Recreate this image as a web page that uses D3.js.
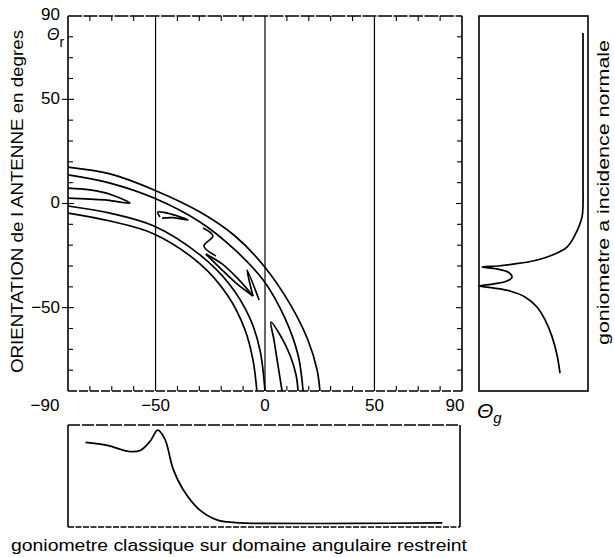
<!DOCTYPE html>
<html>
<head>
<meta charset="utf-8">
<script src="https://cdn.jsdelivr.net/npm/d3@7"></script>
<style>
  body { margin: 0; background: #fff; }
  svg { display: block; font-family: "Liberation Sans", Arial, sans-serif; }
</style>
</head>
<body>
<div id="chart"></div>
<script>

var svgWidth = 615;
var svgHeight = 558;

// contour lines of the main map, [theta_g, theta_r] in degrees
var outerArc1 = [[-90, 17.5], [-70.8, 14.2], [-50.7, 6.5], [-29.7, -4.1], [-13.7, -15.6], [-0.5, -30], [11.4, -48.2], [19.6, -65.5], [23.8, -79.9], [25.1, -90]];
var outerArc2 = [[-90, 13.7], [-70.8, 9.8], [-50.7, 2.6], [-29.7, -8.9], [-13.7, -22.3], [-0.5, -37.2], [9.1, -55], [15.1, -72.7], [17.4, -90]];
var innerArc1 = [[-90, -1.2], [-70.8, -4.6], [-50.7, -10.8], [-29.7, -24.7], [-16, -39.1], [-6.9, -55], [-2.3, -70.3], [0, -90]];
var innerArc2 = [[-90, -4.6], [-70.8, -8.4], [-50.7, -14.6], [-29.7, -29], [-16.9, -44.4], [-9.1, -60.7], [-5.5, -75.1], [-3.7, -90]];
var tongueLeft = [[-90, 7.4], [-80, 6.5], [-69.9, 4.1], [-61.7, 0.2], [-73.1, 1.7], [-90, 2.6]];
var tongueSmall = [[-48, -6.5], [-48.9, -4.1], [-42.5, -5.2], [-35.2, -7.9], [-42, -6.8], [-47, -7]];
var zigzag = [[-28.3, -11.8], [-23.8, -15.6], [-27.9, -20.4], [-22.4, -25.2]];
var tongueUpper = [[-27, -24.3], [-19.6, -29], [-12.3, -36.2], [-5.5, -44.4]];
var tongueLower = [[-27, -24.3], [-20.6, -30.9], [-13.2, -38.2], [-5.5, -44.4]];
var spike = [[-5.5, -44.4], [-8.2, -32], [-2.7, -46.3]];
var arch = [[7.8, -90], [5.9, -77.5], [4.1, -65.5], [2.7, -56.9], [6.9, -63.1], [11.4, -72.7], [14.2, -82.3], [15.1, -90]];

// right panel: goniometre a incidence normale, response vs theta_r
var normalThetaR = [81.9, 40, 10, -0.7, -6.5, -15.1, -20.9, -25.2, -27.6, -29.0, -30.0, -30.5, -31.4, -32.9, -35.3, -37.2, -38.6, -39.6, -40.6, -42.0, -44.9, -49.7, -55.9, -63.9, -72.7, -81.4];
var normalResponse = [0.954, 0.954, 0.954, 0.954, 0.945, 0.881, 0.807, 0.651, 0.495, 0.33, 0.174, 0.028, 0.165, 0.266, 0.303, 0.257, 0.138, 0.0, 0.138, 0.284, 0.422, 0.532, 0.606, 0.67, 0.716, 0.743];

// bottom panel: goniometre classique, response vs theta_g
var classicThetaG = [-82, -72, -62, -57, -52.5, -49, -45.7, -42, -37.5, -30, -22, -11, 0, 40, 81];
var classicResponse = [0.83, 0.8, 0.74, 0.75, 0.84, 0.95, 0.86, 0.57, 0.37, 0.17, 0.07, 0.04, 0.035, 0.035, 0.04];

var xTickLabels = [-50, 0, 50, 90];
var yTickLabels = [90, 50, 0, -50];
var gridLines = [-50, 0, 50];

var svg = d3.select("#chart")
  .append("svg")
  .attr("width", svgWidth)
  .attr("height", svgHeight);

var x = d3.scaleLinear().domain([-90, 90]).range([68, 462]);
var y = d3.scaleLinear().domain([-90, 90]).range([391, 16]);

// right panel scale and bottom panel scale
var rx = d3.scaleLinear().domain([0, 1]).range([479, 588]);
var by = d3.scaleLinear().domain([0, 1]).range([527, 425]);

var fmt = d => d < 0 ? "\u2212" + Math.abs(d) : String(d);

// ---- main frame ----
var main = svg.append("g");

main.selectAll(".grid")
  .data(gridLines)
  .enter()
  .append("line")
  .attr("x1", d => x(d)).attr("x2", d => x(d))
  .attr("y1", y(90)).attr("y2", y(-90))
  .attr("stroke", "#000")
  .attr("stroke-width", 1.2);

// minor ticks every 10 degrees, inward
var minor = d3.range(-80, 90, 10);
minor.forEach(function(v) {
  var major = v % 50 === 0;
  var len = major ? 6 : 5;
  // left and right edges
  main.append("line").attr("x1", x(-90) - (major ? 6 : 0)).attr("x2", x(-90) + len)
    .attr("y1", y(v)).attr("y2", y(v)).attr("stroke", "#000").attr("stroke-width", 1.1);
  main.append("line").attr("x1", x(90) - len).attr("x2", x(90))
    .attr("y1", y(v)).attr("y2", y(v)).attr("stroke", "#000").attr("stroke-width", 1.1);
  // top and bottom edges
  if (!major) {
    main.append("line").attr("x1", x(v)).attr("x2", x(v))
      .attr("y1", y(90)).attr("y2", y(90) + len).attr("stroke", "#000").attr("stroke-width", 1.1);
    main.append("line").attr("x1", x(v)).attr("x2", x(v))
      .attr("y1", y(-90) - len).attr("y2", y(-90)).attr("stroke", "#000").attr("stroke-width", 1.1);
  }
});

main.append("line").attr("x1", x(-90)).attr("x2", x(-90)).attr("y1", y(90)).attr("y2", y(-90))
  .attr("stroke", "#000").attr("stroke-width", 1.6);
main.append("line").attr("x1", x(90)).attr("x2", x(90)).attr("y1", y(90)).attr("y2", y(-90))
  .attr("stroke", "#000").attr("stroke-width", 1.6);
main.append("line").attr("x1", x(-90)).attr("x2", x(90)).attr("y1", y(90)).attr("y2", y(90))
  .attr("stroke", "#000").attr("stroke-width", 1.3).attr("stroke-dasharray", "14,1.5");
main.append("line").attr("x1", x(-90)).attr("x2", x(90)).attr("y1", y(-90)).attr("y2", y(-90))
  .attr("stroke", "#000").attr("stroke-width", 1.3).attr("stroke-dasharray", "9,2");

// contours
var contourLine = d3.line()
  .x(d => x(d[0]))
  .y(d => y(d[1]))
  .curve(d3.curveCatmullRom.alpha(0.5));

var contours = [outerArc1, outerArc2, innerArc1, innerArc2, tongueLeft, tongueSmall,
  zigzag, tongueUpper, tongueLower, spike, arch];

main.selectAll(".contour")
  .data(contours)
  .enter()
  .append("path")
  .attr("class", "contour")
  .attr("d", contourLine)
  .attr("fill", "none")
  .attr("stroke", "#000")
  .attr("stroke-width", 1.7)
  .attr("stroke-linejoin", "round");

// tick labels
main.selectAll(".ylab")
  .data(yTickLabels)
  .enter()
  .append("text")
  .attr("x", 60)
  .attr("y", d => d === 90 ? 14 : y(d) - 1)
  .attr("dy", "0.35em")
  .attr("text-anchor", "end")
  .attr("font-size", 17)
  .text(fmt);

main.selectAll(".xlab")
  .data(xTickLabels)
  .enter()
  .append("text")
  .attr("x", d => d === 90 ? 455 : x(d))
  .attr("y", 405)
  .attr("dy", "0.35em")
  .attr("text-anchor", "middle")
  .attr("font-size", 17)
  .text(fmt);

main.append("text")
  .attr("x", 45).attr("y", 405).attr("dy", "0.35em")
  .attr("text-anchor", "middle").attr("font-size", 17)
  .text(fmt(-90));

// theta_g and theta_r symbols
var tg = main.append("text").attr("x", 477).attr("y", 418).attr("font-size", 21).attr("font-style", "italic");
tg.append("tspan").text("\u0398");
tg.append("tspan").attr("font-size", 15).attr("dy", 5).text("g");

var tr = main.append("text").attr("x", 47).attr("y", 40).attr("font-size", 16).attr("font-style", "italic");
tr.append("tspan").text("\u0398");
tr.append("tspan").attr("font-size", 14).attr("dy", 7).attr("font-style", "normal").text("r");

// axis title (rotated)
svg.append("text")
  .attr("transform", "translate(23, 373) rotate(-90)")
  .attr("font-size", 16)
  .attr("textLength", 343)
  .attr("lengthAdjust", "spacingAndGlyphs")
  .text("ORIENTATION de l ANTENNE en degres");

// ---- right panel ----
var right = svg.append("g");
right.append("rect")
  .attr("x", rx(0)).attr("y", y(90))
  .attr("width", rx(1) - rx(0)).attr("height", y(-90) - y(90))
  .attr("fill", "none").attr("stroke", "#000").attr("stroke-width", 1.6);

var normalData = normalThetaR.map((t, i) => [t, normalResponse[i]]);
var normalLine = d3.line()
  .x(d => rx(d[1]))
  .y(d => y(d[0]))
  .curve(d3.curveCatmullRom.alpha(0.5));

right.append("path")
  .datum(normalData)
  .attr("d", normalLine)
  .attr("fill", "none")
  .attr("stroke", "#000")
  .attr("stroke-width", 1.7);

svg.append("text")
  .attr("transform", "translate(609, 345) rotate(-90)")
  .attr("font-size", 16)
  .attr("textLength", 305)
  .attr("lengthAdjust", "spacingAndGlyphs")
  .text("goniometre a incidence normale");

// ---- bottom panel ----
var bottom = svg.append("g");
bottom.append("line").attr("x1", x(-90)).attr("x2", x(-90)).attr("y1", by(1)).attr("y2", by(0))
  .attr("stroke", "#000").attr("stroke-width", 1.6);
bottom.append("line").attr("x1", x(90) - 2).attr("x2", x(90) - 2).attr("y1", by(1)).attr("y2", by(0))
  .attr("stroke", "#000").attr("stroke-width", 1.6);
bottom.append("line").attr("x1", x(-90)).attr("x2", x(90) - 2).attr("y1", by(1)).attr("y2", by(1))
  .attr("stroke", "#000").attr("stroke-width", 1.3).attr("stroke-dasharray", "12,2");
bottom.append("line").attr("x1", x(-90)).attr("x2", x(90) - 2).attr("y1", by(0)).attr("y2", by(0))
  .attr("stroke", "#000").attr("stroke-width", 1.3).attr("stroke-dasharray", "6,1.5");

var classicData = classicThetaG.map((t, i) => [t, classicResponse[i]]);
var classicLine = d3.line()
  .x(d => x(d[0]))
  .y(d => by(d[1]))
  .curve(d3.curveCatmullRom.alpha(0.5));

bottom.append("path")
  .datum(classicData)
  .attr("d", classicLine)
  .attr("fill", "none")
  .attr("stroke", "#000")
  .attr("stroke-width", 1.7);

svg.append("text")
  .attr("x", 11).attr("y", 551)
  .attr("font-size", 16)
  .attr("textLength", 456)
  .attr("lengthAdjust", "spacingAndGlyphs")
  .text("goniometre classique sur domaine angulaire restreint");

</script>
</body>
</html>
